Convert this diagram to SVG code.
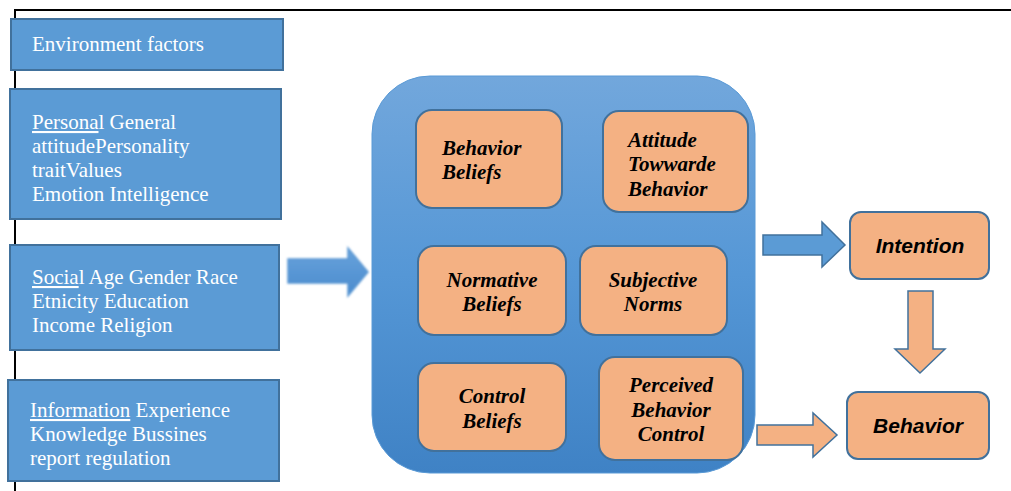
<svg xmlns="http://www.w3.org/2000/svg" width="1011" height="491" viewBox="0 0 1011 491">
<defs>
<linearGradient id="bigGrad" x1="0" y1="0" x2="0" y2="1">
<stop offset="0" stop-color="#72a7dc"/>
<stop offset="0.5" stop-color="#5597d6"/>
<stop offset="1" stop-color="#3f82c5"/>
</linearGradient>
<linearGradient id="arrGrad" x1="0" y1="0" x2="0" y2="1">
<stop offset="0" stop-color="#68a3dc"/>
<stop offset="1" stop-color="#4a8bcd"/>
</linearGradient>
<filter id="blur" x="-10%" y="-10%" width="120%" height="120%"><feGaussianBlur stdDeviation="0.8"/></filter>
</defs>
<style>
.lbox{fill:#5b9bd5;stroke:#41719c;stroke-width:2}
.ltxt{font-family:"Liberation Serif",serif;font-size:21px;fill:#ffffff}
.obox{fill:#f4b183;stroke:#41719c;stroke-width:2}
.otxt{font-family:"Liberation Serif",serif;font-size:21px;font-weight:bold;font-style:italic;fill:#000000}
.stxt{font-family:"Liberation Sans",sans-serif;font-size:21px;font-weight:bold;font-style:italic;fill:#000000}
.u{text-decoration:underline}
</style>
<g id="frame" fill="none" stroke="#000" stroke-width="2">
<path d="M15 491 V10 H1011"/>
</g>
<g id="env">
<rect class="lbox" x="11" y="19" width="272" height="51"/>
<text class="ltxt" x="32" y="51">Environment factors</text>
</g>
<g id="personal">
<rect class="lbox" x="10" y="89" width="271" height="130"/>
<text class="ltxt"><tspan x="32" y="129"><tspan class="u">Persona</tspan>l General</tspan><tspan x="32" y="153">attitudePersonality</tspan><tspan x="32" y="177">traitValues</tspan><tspan x="32" y="201">Emotion Intelligence</tspan></text>
</g>
<g id="social">
<rect class="lbox" x="10" y="245" width="269" height="105"/>
<text class="ltxt"><tspan x="32" y="284"><tspan class="u">Socia</tspan>l Age Gender Race</tspan><tspan x="32" y="308">Etnicity Education</tspan><tspan x="32" y="332">Income Religion</tspan></text>
</g>
<g id="information">
<rect class="lbox" x="8" y="380" width="271" height="101"/>
<text class="ltxt"><tspan x="30" y="417"><tspan class="u">Information</tspan> Experience</tspan><tspan x="30" y="441">Knowledge Bussines</tspan><tspan x="30" y="465">report regulation</tspan></text>
</g>
<g id="tpb">
<rect x="372" y="76" width="383" height="397" rx="58" ry="58" fill="url(#bigGrad)" stroke="#5a9ad6" stroke-width="1"/>
</g>
<g id="behavior-beliefs">
<rect class="obox" x="416" y="110" width="146" height="98" rx="16"/>
<text class="otxt"><tspan x="442" y="155">Behavior</tspan><tspan x="442" y="179">Beliefs</tspan></text>
</g>
<g id="attitude">
<rect class="obox" x="603" y="111" width="145" height="101" rx="16"/>
<text class="otxt"><tspan x="628" y="147">Attitude</tspan><tspan x="628" y="171">Towwarde</tspan><tspan x="628" y="196">Behavior</tspan></text>
</g>
<g id="normative-beliefs">
<rect class="obox" x="418" y="246" width="148" height="89" rx="16"/>
<text class="otxt" text-anchor="middle"><tspan x="492" y="287">Normative</tspan><tspan x="492" y="311">Beliefs</tspan></text>
</g>
<g id="subjective-norms">
<rect class="obox" x="580" y="246" width="147" height="89" rx="16"/>
<text class="otxt" text-anchor="middle"><tspan x="653" y="287">Subjective</tspan><tspan x="653" y="311">Norms</tspan></text>
</g>
<g id="control-beliefs">
<rect class="obox" x="418" y="363" width="148" height="88" rx="16"/>
<text class="otxt" text-anchor="middle"><tspan x="492" y="403">Control</tspan><tspan x="492" y="428">Beliefs</tspan></text>
</g>
<g id="pbc">
<rect class="obox" x="599" y="357" width="144" height="103" rx="16"/>
<text class="otxt" text-anchor="middle"><tspan x="671" y="392">Perceived</tspan><tspan x="671" y="417">Behavior</tspan><tspan x="671" y="441">Control</tspan></text>
</g>
<g id="intention">
<rect class="obox" x="850" y="212" width="139" height="67" rx="11"/>
<text class="stxt" x="920" y="253" text-anchor="middle">Intention</text>
</g>
<g id="behavior">
<rect class="obox" x="847" y="392" width="142" height="67" rx="11"/>
<text class="stxt" x="918" y="433" text-anchor="middle">Behavior</text>
</g>
<g id="connectors">
<path d="M288 259 H348 V248 L368 272 L348 296 V283 H288 Z" fill="url(#arrGrad)" stroke="#5a97d3" stroke-width="1.5" filter="url(#blur)"/>
<path d="M763 235 H822 V222 L845 245 L822 267 V255 H763 Z" fill="#5b9bd5" stroke="#41719c" stroke-width="1.5"/>
<path d="M908 291 H933 V349 H945 L920 373 L895 349 H908 Z" fill="#f4b183" stroke="#41719c" stroke-width="1.5"/>
<path d="M757 425 H813 V413 L837 435 L813 457 V445 H757 Z" fill="#f4b183" stroke="#41719c" stroke-width="1.5"/>
</g>
</svg>
